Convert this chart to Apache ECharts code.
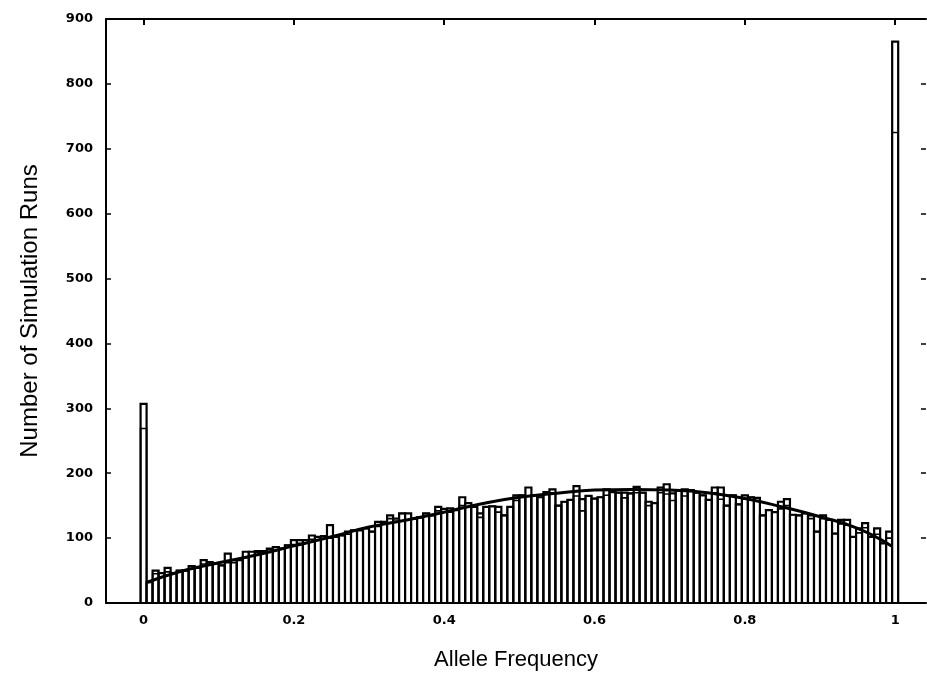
<!DOCTYPE html>
<html>
<head>
<meta charset="utf-8">
<script src="https://cdn.jsdelivr.net/npm/echarts@6/dist/echarts.min.js"></script>
<style>
html,body{margin:0;padding:0;background:#fff;}
#c{width:927px;height:680px;}
</style>
</head>
<body>
<div id="c"></div>
<script>
// Bin width of the histogram
const BIN_WIDTH = 0.008;
// Bin centres: 0, 0.008, ..., 1.0
const binCenters = Array.from({length: 126}, (_, k) => +(k * BIN_WIDTH).toFixed(3));
// Outer (taller) histogram counts
const countsOuter = [
  307, 32, 50, 46, 54, 46, 50, 50, 57, 54,
  66, 63, 61, 58, 76, 66, 66, 79, 79, 80,
  80, 84, 86, 84, 89, 97, 97, 97, 104, 102,
  103, 120, 102, 104, 110, 112, 112, 115, 110, 125,
  125, 135, 130, 138, 138, 130, 132, 138, 135, 148,
  145, 146, 143, 163, 154, 148, 138, 148, 149, 148,
  135, 148, 166, 166, 178, 166, 163, 171, 175, 150,
  156, 159, 180, 160, 165, 161, 163, 175, 171, 170,
  170, 169, 179, 170, 156, 154, 178, 183, 169, 174,
  175, 174, 170, 166, 159, 178, 178, 150, 166, 152,
  166, 163, 162, 135, 143, 140, 156, 160, 136, 135,
  138, 135, 110, 135, 128, 107, 128, 128, 102, 115,
  123, 102, 115, 92, 110, 865
];
// Inner (overlaid) histogram counts
const countsInner = [
  269, 32, 45, 46, 48, 46, 50, 50, 52, 54,
  60, 60, 61, 58, 62, 62, 66, 70, 72, 78,
  80, 82, 86, 84, 89, 90, 92, 97, 98, 102,
  103, 100, 102, 104, 106, 112, 112, 115, 110, 118,
  125, 130, 126, 138, 128, 130, 132, 138, 135, 142,
  145, 140, 143, 150, 154, 148, 132, 148, 149, 140,
  135, 148, 158, 166, 165, 166, 163, 168, 170, 150,
  156, 159, 165, 142, 165, 161, 163, 166, 171, 170,
  162, 169, 170, 170, 150, 154, 170, 168, 158, 174,
  165, 174, 170, 166, 159, 170, 160, 150, 166, 152,
  160, 163, 162, 135, 143, 140, 145, 150, 136, 135,
  138, 130, 110, 130, 128, 107, 122, 120, 102, 108,
  116, 102, 106, 92, 100, 725
];
// Fitted curve
const curveX = [0.005, 0.05, 0.1, 0.15, 0.2, 0.25, 0.3, 0.35, 0.4, 0.45, 0.5, 0.55, 0.6, 0.65, 0.7, 0.75, 0.8, 0.85, 0.9, 0.95, 0.995];
const curveY = [32, 49, 62, 74, 88, 102, 117, 128, 140, 153, 163, 169, 174, 175, 174, 170, 161, 148, 133, 115, 88];
// Tick labels
const xTicks = [0, 0.2, 0.4, 0.6, 0.8, 1];

const histOuter = binCenters.map((x, i) => [x, countsOuter[i]]);
const histInner = binCenters.map((x, i) => [x, countsInner[i]]);
const curve = curveX.map((x, i) => [x, curveY[i]]);

function makeRender(fill, lw) {
  return function (params, api) {
    const x = api.value(0), y = api.value(1);
    const p0 = api.coord([x - BIN_WIDTH / 2, 0]);
    const p1 = api.coord([x + BIN_WIDTH / 2, y]);
    return {
      type: 'rect',
      shape: {x: p0[0], y: p1[1], width: p1[0] - p0[0], height: p0[1] - p1[1]},
      style: {fill: fill, stroke: '#000', lineWidth: lw}
    };
  };
}

const labelFont = {fontFamily: 'DejaVu Sans', fontWeight: 'bold', fontSize: 13, color: '#000'};
const chart = echarts.init(document.getElementById('c'), null, {renderer: 'canvas'});
chart.setOption({
  animation: false,
  backgroundColor: '#fff',
  grid: {left: 106, top: 19, width: 820, height: 584},
  xAxis: [{
    type: 'value', position: 'bottom', min: -0.05, max: 1.041,
    name: 'Allele Frequency', nameLocation: 'middle', nameGap: 46,
    nameTextStyle: {fontFamily: 'Liberation Sans', fontSize: 22, color: '#000'},
    axisLine: {show: true, onZero: false, lineStyle: {color: '#000', width: 2}},
    axisTick: {show: true, inside: true, length: 6, customValues: xTicks, lineStyle: {color: '#000', width: 2}},
    axisLabel: Object.assign({margin: 11, customValues: xTicks}, labelFont),
    splitLine: {show: false}
  }, {
    type: 'value', position: 'top', min: -0.05, max: 1.041,
    axisLine: {show: true, onZero: false, lineStyle: {color: '#000', width: 2}},
    axisTick: {show: true, inside: true, length: 6, customValues: xTicks, lineStyle: {color: '#000', width: 2}},
    axisLabel: {show: false},
    splitLine: {show: false}
  }],
  yAxis: [{
    type: 'value', position: 'left', min: 0, max: 900, interval: 100,
    name: 'Number of Simulation Runs', nameLocation: 'middle', nameGap: 64,
    nameTextStyle: {fontFamily: 'Liberation Sans', fontSize: 24, color: '#000'},
    axisLine: {show: true, onZero: false, lineStyle: {color: '#000', width: 2}},
    axisTick: {show: true, inside: true, length: 5, lineStyle: {color: '#000', width: 1.5}},
    axisLabel: Object.assign({margin: 13}, labelFont),
    splitLine: {show: false}
  }, {
    type: 'value', position: 'right', min: 0, max: 900, interval: 100,
    axisLine: {show: false, onZero: false},
    axisTick: {show: true, inside: true, length: 5, lineStyle: {color: '#000', width: 1.5}},
    axisLabel: {show: false},
    splitLine: {show: false}
  }],
  series: [{
    type: 'custom', xAxisIndex: 0, yAxisIndex: 0,
    renderItem: makeRender('#fff', 2.2),
    encode: {x: 0, y: 1},
    data: histOuter, z: 2
  }, {
    type: 'custom', xAxisIndex: 0, yAxisIndex: 0,
    renderItem: makeRender('rgba(0,0,0,0)', 1.6),
    encode: {x: 0, y: 1},
    data: histInner, z: 3
  }, {
    type: 'line', xAxisIndex: 0, yAxisIndex: 0,
    data: curve, smooth: true, showSymbol: false, symbol: 'none',
    lineStyle: {color: '#000', width: 3}, z: 4
  }]
});
</script>
</body>
</html>
